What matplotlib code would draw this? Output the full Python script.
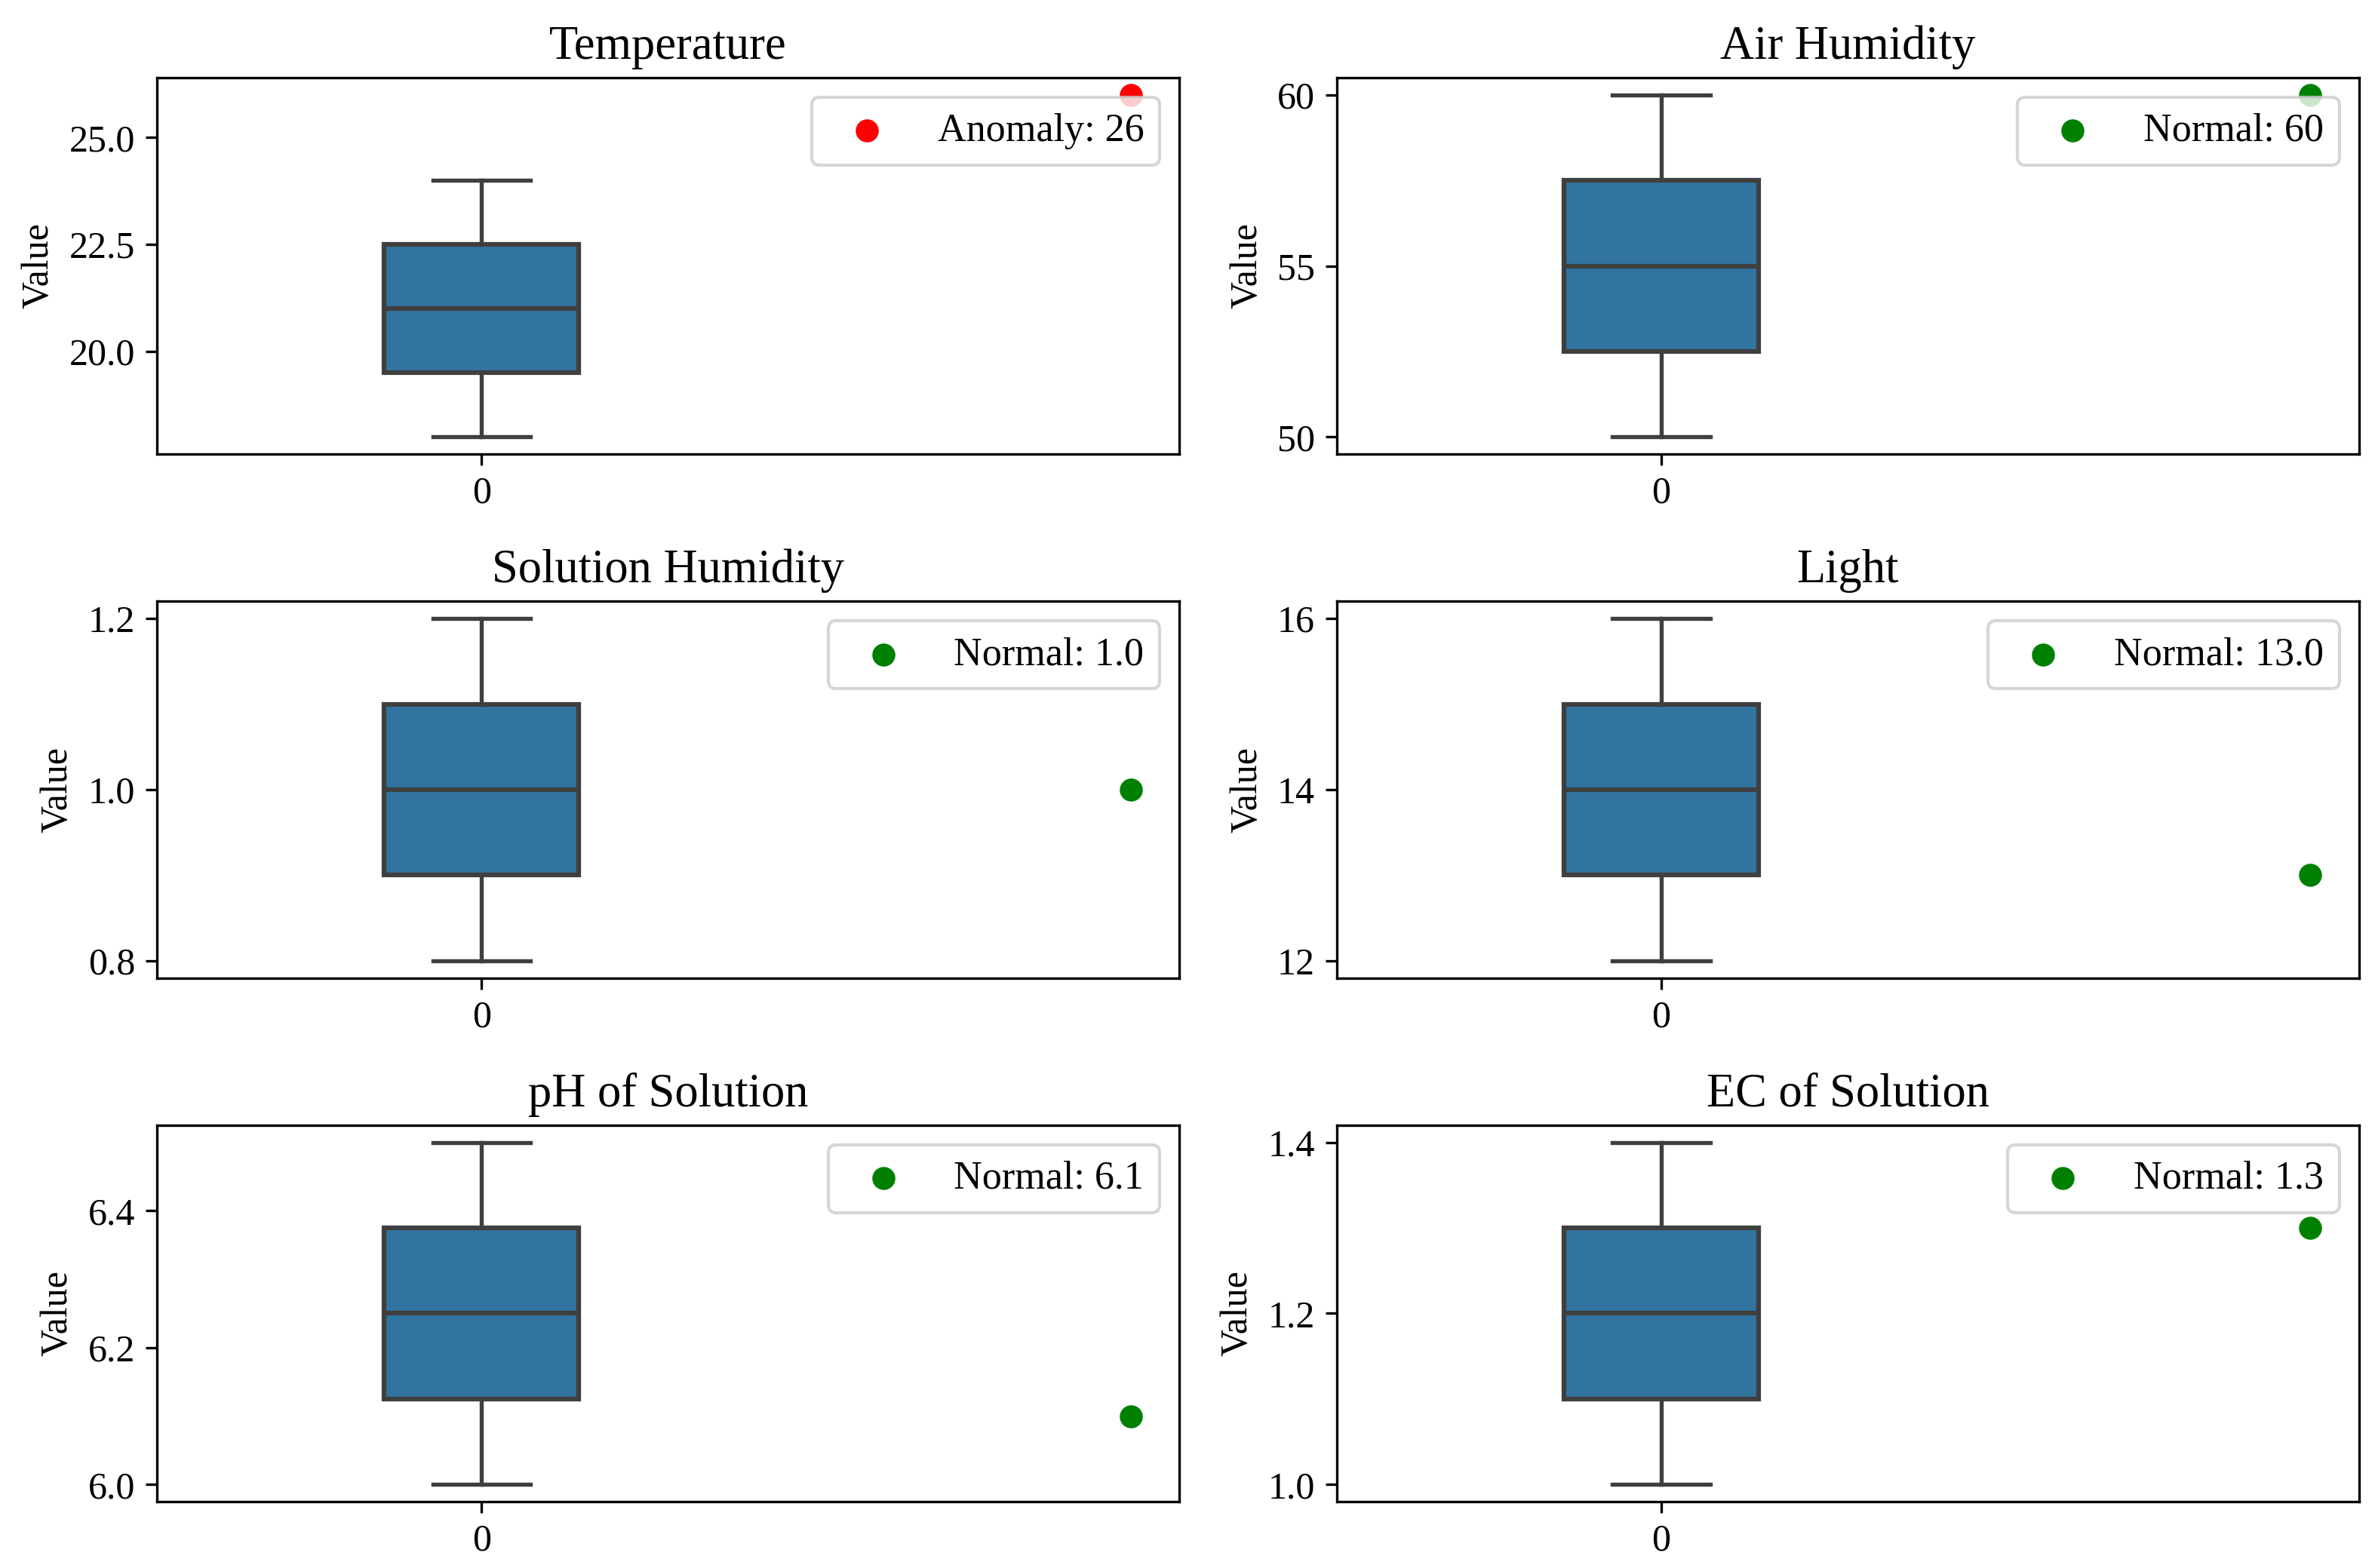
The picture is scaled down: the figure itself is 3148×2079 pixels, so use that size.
import matplotlib
matplotlib.use('Agg')
import matplotlib.pyplot as plt

# dane
titles = ['Temperature', 'Air Humidity', 'Solution Humidity', 'Light', 'pH of Solution', 'EC of Solution']
temperature = [18, 19, 20, 21, 22, 23, 24]
air_humidity = [50, 52, 54, 56, 58, 60]
solution_humidity = [0.8, 0.9, 1.0, 1.1, 1.2]
light = [12, 13, 14, 15, 16]
ph_solution = [6.0, 6.1, 6.2, 6.3, 6.4, 6.5]
ec_solution = [1.0, 1.1, 1.2, 1.3, 1.4]
history = [temperature, air_humidity, solution_humidity, light, ph_solution, ec_solution]

current_values = [26, 60, 1.0, 13.0, 6.1, 1.3]
current_status = ['Anomaly', 'Normal', 'Normal', 'Normal', 'Normal', 'Normal']

yticks = [
    [20.0, 22.5, 25.0],
    [50, 55, 60],
    [0.8, 1.0, 1.2],
    [12, 14, 16],
    [6.0, 6.2, 6.4],
    [1.0, 1.2, 1.4],
]

plt.rcParams['font.family'] = ['Liberation Serif', 'DejaVu Serif']
plt.rcParams['font.size'] = 12

fig, axes = plt.subplots(3, 2, figsize=(3148 / 300, 2079 / 300), dpi=300)
fig.subplots_adjust(left=0.0661, right=0.9933, top=0.9505, bottom=0.0423,
                    hspace=0.391, wspace=0.154)

box_color = '#3274a1'
line_color = '#3f3f3f'

for ax, title, data, val, status, ticks in zip(axes.flat, titles, history,
                                               current_values, current_status, yticks):
    ax.boxplot(data, positions=[0], widths=0.3, capwidths=0.15, patch_artist=True,
               boxprops=dict(facecolor=box_color, edgecolor=line_color, linewidth=1.5),
               medianprops=dict(color=line_color, linewidth=1.5),
               whiskerprops=dict(color=line_color, linewidth=1.3),
               capprops=dict(color=line_color, linewidth=1.3),
               showfliers=False)
    color = 'red' if status == 'Anomaly' else 'green'
    ax.scatter([1], [val], color=color, s=40, label=f'{status}: {val}', zorder=3)
    ax.set_xlim(-0.5, 1.075)
    ax.set_xticks([0])
    ax.set_xticklabels(['0'])
    ax.set_yticks(ticks)
    ax.set_title(title, fontsize=15)
    ax.set_ylabel('Value')
    ax.legend(loc='upper right', fontsize=12.5)

plt.savefig('out.png', dpi=300)
